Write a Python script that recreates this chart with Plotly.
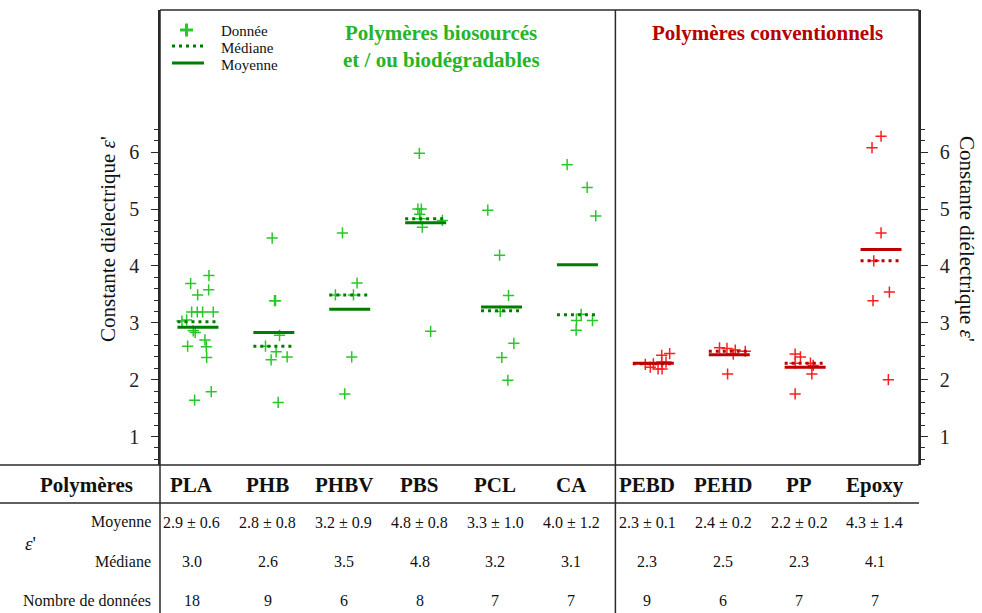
import plotly.graph_objects as go

# ---------------- data ----------------
categories = ["PLA", "PHB", "PHBV", "PBS", "PCL", "CA", "PEBD", "PEHD", "PP", "Epoxy"]
n_bio = 6  # first six are bio-sourced / biodegradable

values = {
    "PLA": [3.83, 3.69, 3.58, 3.49, 3.19, 3.19, 3.19, 3.19, 3.03, 3.05, 2.86, 2.83, 2.70, 2.59, 2.58, 2.39, 1.79, 1.64],
    "PHB": [4.49, 3.39, 3.39, 2.78, 2.59, 2.49, 2.40, 2.35, 1.60],
    "PHBV": [4.58, 3.70, 3.49, 3.49, 2.40, 1.75],
    "PBS": [5.98, 5.00, 5.00, 4.91, 4.83, 4.80, 4.68, 2.85],
    "PCL": [4.98, 4.19, 3.48, 3.20, 2.64, 2.39, 1.99],
    "CA": [5.78, 5.38, 4.88, 3.15, 3.04, 3.04, 2.87],
    "PEBD": [2.46, 2.43, 2.31, 2.31, 2.28, 2.27, 2.22, 2.19, 2.19],
    "PEHD": [2.56, 2.55, 2.52, 2.50, 2.45, 2.10],
    "PP": [2.45, 2.40, 2.29, 2.29, 2.25, 2.10, 1.75],
    "Epoxy": [6.28, 6.08, 4.58, 4.09, 3.54, 3.39, 2.00],
}
# horizontal scatter of each point around its category (category units)
jitter = {
    "PLA": [0.145, -0.096, 0.141, -0.004, -0.083, -0.009, 0.062, 0.202, -0.211, -0.149, -0.062, -0.036, 0.092, -0.136, 0.110, 0.115, 0.175, -0.044],
    "PHB": [-0.022, 0.022, 0.009, 0.075, -0.110, 0.030, 0.175, -0.036, 0.057],
    "PHBV": [-0.096, 0.096, -0.189, 0.049, 0.026, -0.066],
    "PBS": [-0.083, -0.102, -0.057, -0.079, -0.066, 0.220, -0.044, 0.066],
    "PCL": [-0.181, -0.026, 0.092, -0.017, 0.162, 0.004, 0.083],
    "CA": [-0.136, 0.128, 0.241, 0.049, -0.013, 0.198, -0.017],
    "PEBD": [0.215, 0.110, 0.110, 0.167, 0.0, -0.106, -0.040, 0.062, 0.115],
    "PEHD": [-0.128, -0.030, 0.079, 0.211, 0.053, -0.022],
    "PP": [-0.132, -0.062, -0.132, 0.070, 0.106, 0.088, -0.132],
    "Epoxy": [0.0, -0.119, 0.0, -0.096, 0.110, -0.106, 0.096],
}
means = [2.92, 2.83, 3.24, 4.76, 3.28, 4.02, 2.29, 2.44, 2.22, 4.29]
medians = [3.02, 2.59, 3.49, 4.83, 3.21, 3.14, 2.28, 2.50, 2.29, 4.09]
stds = [0.6, 0.8, 0.9, 0.8, 1.0, 1.2, 0.1, 0.2, 0.2, 1.4]
y_ticks = [1, 2, 3, 4, 5, 6]
legend_labels = ["Donnée", "Médiane", "Moyenne"]

# ---------------- style ----------------
W, H = 982, 613
FONT = "Liberation Serif"
GREEN_PT = "rgb(40,200,40)"
GREEN_LN = "rgb(0,125,0)"
GREEN_TXT = "rgb(40,180,40)"
RED_PT = "rgb(255,30,30)"
RED_LN = "rgb(190,0,0)"
RED_TXT = "rgb(185,0,0)"
FRAME = "#2a2a2a"
DOT = "3px,4px"

PLOT_L, PLOT_R, PLOT_T, PLOT_B = 160, 919, 10, 465
HALF = 0.27


def px(x):
    return x / W


def py(y):
    return 1 - y / H


fig = go.Figure()

for idxs, pt_col, ln_col in [
    (range(0, n_bio), GREEN_PT, GREEN_LN),
    (range(n_bio, len(categories)), RED_PT, RED_LN),
]:
    xs, ys = [], []
    for i in idxs:
        c = categories[i]
        xs += [i + j for j in jitter[c]]
        ys += values[c]
    fig.add_trace(go.Scatter(
        x=xs, y=ys, mode="markers", showlegend=False,
        marker=dict(symbol="cross-thin", size=8, line=dict(width=1.5, color=pt_col)),
    ))
    mx, my, dx, dy = [], [], [], []
    for i in idxs:
        mx += [i - HALF, i + HALF, None]
        my += [means[i], means[i], None]
        dx += [i - HALF, i + HALF, None]
        dy += [medians[i], medians[i], None]
    fig.add_trace(go.Scatter(x=dx, y=dy, mode="lines", showlegend=False,
                             line=dict(color=ln_col, width=3, dash=DOT)))
    fig.add_trace(go.Scatter(x=mx, y=my, mode="lines", showlegend=False,
                             line=dict(color=ln_col, width=3)))

# invisible trace so the right axis is drawn
fig.add_trace(go.Scatter(x=[None], y=[None], yaxis="y2", showlegend=False, hoverinfo="skip"))

minor_vals = [round(0.6 + 0.2 * k, 1) for k in range(30)
              if abs((0.6 + 0.2 * k) - round(0.6 + 0.2 * k)) > 1e-6]
yax = dict(
    range=[0.5, 8.5], domain=[py(PLOT_B), py(PLOT_T)],
    tickvals=y_ticks, ticks="outside", ticklen=7, tickwidth=1.3, tickcolor=FRAME,
    minor=dict(tickvals=minor_vals, ticks="outside", ticklen=4, tickwidth=1.1, tickcolor=FRAME),
    showgrid=False, zeroline=False, showline=True, linecolor=FRAME, linewidth=1.5,
    tickfont=dict(family=FONT, size=20, color="#222"), ticklabelstandoff=8,
)

fig.update_layout(
    width=W, height=H, margin=dict(l=0, r=0, t=0, b=0),
    paper_bgcolor="white", plot_bgcolor="white", showlegend=False,
    xaxis=dict(range=[-0.5, len(categories) - 0.5], domain=[px(PLOT_L), px(PLOT_R)],
               showticklabels=False, ticks="", showgrid=False, zeroline=False, showline=False),
    yaxis=yax,
    yaxis2=dict(yax, overlaying="y", side="right", anchor="x"),
    font=dict(family=FONT),
)

shapes = []


def seg(x0, y0, x1, y1, color=FRAME, w=1.5, dash="solid"):
    shapes.append(dict(type="line", xref="paper", yref="paper", x0=px(x0), x1=px(x1),
                       y0=py(y0), y1=py(y1), line=dict(color=color, width=w, dash=dash)))


# frame and table rules
seg(PLOT_L, PLOT_T, PLOT_R, PLOT_T)
seg(0, PLOT_B, PLOT_R, PLOT_B)
seg(0, 503, PLOT_R, 503)
seg(PLOT_L, PLOT_T, PLOT_L, H)
seg(PLOT_R, PLOT_T, PLOT_R, PLOT_B)
# divider between the two families (between categories 5 and 6)
shapes.append(dict(type="line", xref="x", yref="paper", x0=n_bio - 0.5, x1=n_bio - 0.5,
                   y0=py(PLOT_T), y1=0, line=dict(color=FRAME, width=1.5)))

# legend glyphs
seg(180, 30, 193, 30, GREEN_PT, 3)
seg(186.5, 23.5, 186.5, 36.5, GREEN_PT, 3)
seg(172, 46, 204, 46, GREEN_LN, 3, DOT)
seg(172, 63, 204, 63, GREEN_LN, 3)
fig.update_layout(shapes=shapes)

ann = []


def text(x, y, s, size, xref="paper", xanchor="center", color="#111", bold=False, angle=0):
    ann.append(dict(x=x, y=y, xref=xref, yref="paper", text=f"<b>{s}</b>" if bold else s,
                    showarrow=False, xanchor=xanchor, yanchor="middle", textangle=angle,
                    font=dict(family=FONT, size=size, color=color)))


# legend labels
for lab, yy in zip(legend_labels, [31, 48, 65]):
    text(px(219), py(yy), lab, 15, xanchor="left")

# titles
text(px(441), py(33), "Polymères biosourcés", 21, color=GREEN_TXT, bold=True)
text(px(441), py(60), "et / ou biodégradables", 21, color=GREEN_TXT, bold=True)
text(px(767), py(33), "Polymères conventionnels", 21, color=RED_TXT, bold=True)
# axis titles
text(px(108), py(239), "Constante diélectrique <i>ε</i>'", 21, angle=-90)
text(px(967), py(239), "Constante diélectrique <i>ε</i>'", 21, angle=90)

# table
text(px(86), py(485), "Polymères", 21, bold=True)
text(px(153), py(522), "Moyenne", 16, xanchor="right")
text(px(153), py(561), "Médiane", 16, xanchor="right")
text(px(153), py(600), "Nombre de données", 16, xanchor="right")
text(px(30), py(543), "<i>ε</i>'", 19)
TOFF = -0.08
for i, c in enumerate(categories):
    text(i + TOFF, py(485), c, 21, xref="x", bold=True)
    text(i + TOFF, py(522), f"{means[i]:.1f} ± {stds[i]:.1f}", 16, xref="x")
    text(i + TOFF, py(561), f"{medians[i]:.1f}", 16, xref="x")
    text(i + TOFF, py(600), f"{len(values[c])}", 16, xref="x")

fig.update_layout(annotations=ann)
fig.write_html("out.html", config={"displayModeBar": False},
               post_script="document.body.style.margin='0';document.body.style.padding='0';")
